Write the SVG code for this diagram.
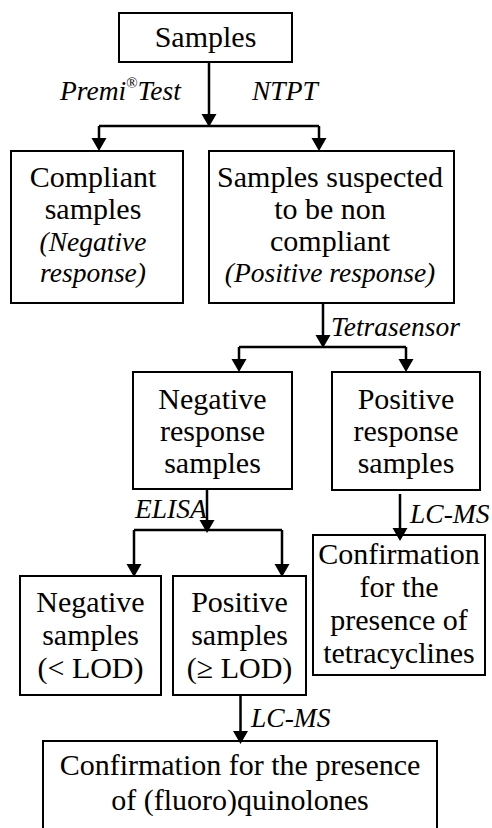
<svg xmlns="http://www.w3.org/2000/svg" width="492" height="828" viewBox="0 0 492 828">
<rect width="492" height="828" fill="#fff"/>
<g id="samples"><rect x="119" y="13" width="173" height="49" fill="#fff" stroke="#000" stroke-width="2"/>
<text font-family="Liberation Serif" font-size="30" text-anchor="middle" x="205.5" y="47">Samples</text></g>
<g id="compliant"><rect x="11" y="151" width="172" height="152" fill="#fff" stroke="#000" stroke-width="2"/>
<text font-family="Liberation Serif" font-size="30" text-anchor="middle" x="93" y="187">Compliant</text>
<text font-family="Liberation Serif" font-size="30" text-anchor="middle" x="93" y="219">samples</text>
<text font-family="Liberation Serif" font-size="27.5" font-style="italic" text-anchor="middle" x="93" y="251">(Negative</text>
<text font-family="Liberation Serif" font-size="27.5" font-style="italic" text-anchor="middle" x="93" y="282">response)</text></g>
<g id="suspected"><rect x="209" y="151" width="245" height="152" fill="#fff" stroke="#000" stroke-width="2"/>
<text font-family="Liberation Serif" font-size="30" text-anchor="middle" x="330" y="187">Samples suspected</text>
<text font-family="Liberation Serif" font-size="30" text-anchor="middle" x="330" y="219">to be non</text>
<text font-family="Liberation Serif" font-size="30" text-anchor="middle" x="330" y="251">compliant</text>
<text font-family="Liberation Serif" font-size="27.5" font-style="italic" text-anchor="middle" x="330" y="282">(Positive response)</text></g>
<g id="negresp"><rect x="133" y="372" width="159" height="117" fill="#fff" stroke="#000" stroke-width="2"/>
<text font-family="Liberation Serif" font-size="30" text-anchor="middle" x="212.5" y="409">Negative</text>
<text font-family="Liberation Serif" font-size="30" text-anchor="middle" x="212.5" y="441">response</text>
<text font-family="Liberation Serif" font-size="30" text-anchor="middle" x="212.5" y="473">samples</text></g>
<g id="posresp"><rect x="332" y="372" width="148" height="118" fill="#fff" stroke="#000" stroke-width="2"/>
<text font-family="Liberation Serif" font-size="30" text-anchor="middle" x="406" y="409">Positive</text>
<text font-family="Liberation Serif" font-size="30" text-anchor="middle" x="406" y="441">response</text>
<text font-family="Liberation Serif" font-size="30" text-anchor="middle" x="406" y="473">samples</text></g>
<g id="conftet"><rect x="313" y="535" width="172" height="140" fill="#fff" stroke="#000" stroke-width="2"/>
<text font-family="Liberation Serif" font-size="30" text-anchor="middle" x="399" y="564">Confirmation</text>
<text font-family="Liberation Serif" font-size="30" text-anchor="middle" x="399" y="597">for the</text>
<text font-family="Liberation Serif" font-size="30" text-anchor="middle" x="399" y="630">presence of</text>
<text font-family="Liberation Serif" font-size="30" text-anchor="middle" x="399" y="663">tetracyclines</text></g>
<g id="negsamp"><rect x="20" y="576" width="141" height="119" fill="#fff" stroke="#000" stroke-width="2"/>
<text font-family="Liberation Serif" font-size="30" text-anchor="middle" x="90.5" y="612">Negative</text>
<text font-family="Liberation Serif" font-size="30" text-anchor="middle" x="90.5" y="645">samples</text>
<text font-family="Liberation Serif" font-size="30" text-anchor="middle" x="90.5" y="678">(&lt; LOD)</text></g>
<g id="possamp"><rect x="173" y="576" width="133" height="119" fill="#fff" stroke="#000" stroke-width="2"/>
<text font-family="Liberation Serif" font-size="30" text-anchor="middle" x="239.5" y="612">Positive</text>
<text font-family="Liberation Serif" font-size="30" text-anchor="middle" x="239.5" y="645">samples</text>
<text font-family="Liberation Serif" font-size="30" text-anchor="middle" x="239.5" y="678">(&#8805; LOD)</text></g>
<g id="conffq"><rect x="43" y="741" width="394" height="100" fill="#fff" stroke="#000" stroke-width="2"/>
<text font-family="Liberation Serif" font-size="30" text-anchor="middle" x="240" y="775">Confirmation for the presence</text>
<text font-family="Liberation Serif" font-size="30" text-anchor="middle" x="240" y="810">of (fluoro)quinolones</text></g>
<g id="connectors">
<path d="M209,62 V116 M99,126 H319 M99,126 V140 M319,126 V140 M323,303 V337 M239,347 H406 M239,347 V361 M406,347 V361 M207,489 V522 M134,530 H282 M134,530 V566 M282,530 V566 M400,494 V530 M240.5,695 V733" fill="none" stroke="#000" stroke-width="2.5"/>
<path d="M201.5,114 L216.5,114 L209,127 Z M91.5,138 L106.5,138 L99,151 Z M311.5,138 L326.5,138 L319,151 Z M315.5,335 L330.5,335 L323,348 Z M231.5,359 L246.5,359 L239,372 Z M398.5,359 L413.5,359 L406,372 Z M199.5,520 L214.5,520 L207,533 Z M126.5,564 L141.5,564 L134,577 Z M274.5,564 L289.5,564 L282,577 Z M392.5,528 L407.5,528 L400,541 Z M233,731 L248,731 L240.5,744 Z" fill="#000"/>
</g>
<g id="labels">
<text font-family="Liberation Serif" font-size="27.5" font-style="italic" x="60" y="100">Premi<tspan font-style="normal" font-size="15" dy="-12">&#174;</tspan><tspan dy="12">Test</tspan></text>
<text font-family="Liberation Serif" font-size="27.5" font-style="italic" x="252" y="100">NTPT</text>
<text font-family="Liberation Serif" font-size="27.5" font-style="italic" x="331" y="336">Tetrasensor</text>
<text font-family="Liberation Serif" font-size="27.5" font-style="italic" x="135" y="518">ELISA</text>
<text font-family="Liberation Serif" font-size="27.5" font-style="italic" x="410" y="523">LC-MS</text>
<text font-family="Liberation Serif" font-size="27.5" font-style="italic" x="251" y="727">LC-MS</text>
</g>
</svg>
